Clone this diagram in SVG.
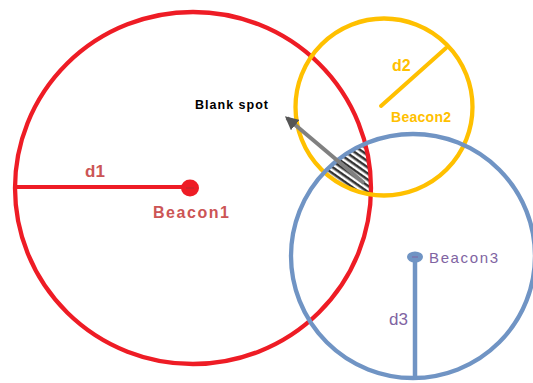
<svg xmlns="http://www.w3.org/2000/svg" width="533" height="383" viewBox="0 0 533 383">
<style>
.t{font-family:"Liberation Sans",Arial,sans-serif}
.ring{fill:none;stroke-width:4.3}
</style>
<defs>
<pattern id="hatch" width="5" height="5" patternUnits="userSpaceOnUse" patternTransform="rotate(35)">
<rect width="5" height="5" fill="#ffffff"/>
<rect width="5" height="2.5" fill="#333333"/>
</pattern>
<clipPath id="cRed"><ellipse cx="193" cy="188" rx="178" ry="176"/></clipPath>
<clipPath id="cYel"><circle cx="384" cy="107" r="88.5"/></clipPath>
<clipPath id="cBlu"><circle cx="413" cy="256" r="122"/></clipPath>
<marker id="ah" viewBox="0 0 10 10" refX="8" refY="5" markerWidth="3.4" markerHeight="3.4" orient="auto" markerUnits="strokeWidth">
<path d="M0,0 L10,5 L0,10 z" fill="#555555"/>
</marker>
</defs>
<rect width="533" height="383" fill="#ffffff"/>
<g id="blank-spot-area" clip-path="url(#cRed)"><g clip-path="url(#cYel)"><g clip-path="url(#cBlu)">
<rect x="320" y="130" width="60" height="80" fill="url(#hatch)"/>
</g></g></g>
<g id="beacon1">
<ellipse class="ring" cx="193" cy="188" rx="178" ry="176" stroke="#ee1c25"/>
<line x1="15" y1="187" x2="190" y2="187" stroke="#ee1c25" stroke-width="4"/>
<ellipse cx="190" cy="188" rx="9" ry="8.5" fill="#ee1c25"/>
<line x1="186" y1="188" x2="194" y2="188" stroke="#b03030" stroke-width="1"/>
<text class="t" x="85" y="177" font-size="17" font-weight="bold" fill="#cc5555">d1</text>
<text class="t" x="153" y="218" font-size="16" font-weight="bold" fill="#cc5555" textLength="76">Beacon1</text>
</g>
<g id="beacon2">
<circle class="ring" cx="384" cy="107" r="88.5" stroke="#ffc000"/>
<line x1="381" y1="106" x2="446" y2="48" stroke="#ffc000" stroke-width="4" stroke-linecap="round"/>
<text class="t" x="392" y="71" font-size="16" font-weight="bold" fill="#ffc000">d2</text>
<text class="t" x="391" y="122" font-size="14" font-weight="bold" fill="#ffc000" textLength="60">Beacon2</text>
</g>
<g id="beacon3">
<circle class="ring" cx="413" cy="256" r="122" stroke="#7094c4"/>
<line x1="415" y1="257" x2="415" y2="380" stroke="#7094c4" stroke-width="4.5"/>
<ellipse cx="415" cy="257" rx="8" ry="5.5" fill="#7094c4"/>
<line x1="412" y1="257" x2="418" y2="257" stroke="#8064a2" stroke-width="1"/>
<text class="t" x="429" y="263" font-size="15" fill="#8064a2" textLength="69">Beacon3</text>
<text class="t" x="389" y="325" font-size="17" fill="#8064a2">d3</text>
</g>
<g id="connectors">
<line x1="364" y1="183" x2="287" y2="118" stroke="#808080" stroke-width="4" marker-end="url(#ah)"/>
</g>
<g id="label-blank-spot">
<text class="t" x="195" y="109" font-size="12.5" font-weight="bold" fill="#000000" textLength="73">Blank spot</text>
</g>
</svg>
